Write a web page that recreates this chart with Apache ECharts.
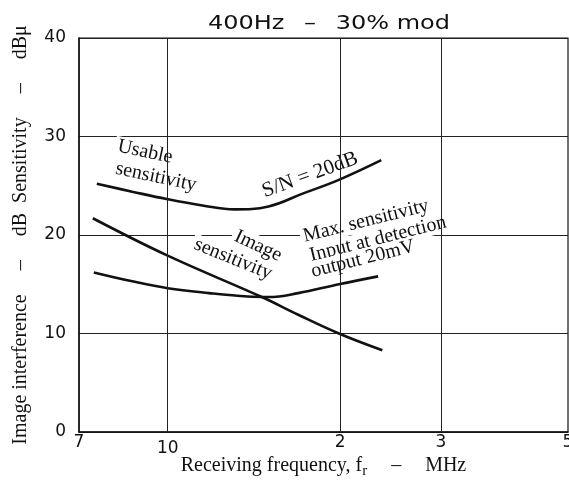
<!DOCTYPE html>
<html><head><meta charset="utf-8">
<script src="https://cdn.jsdelivr.net/npm/echarts@6/dist/echarts.min.js"></script>
<style>html,body{margin:0;padding:0;background:#fff;overflow:hidden}#c{width:569px;height:485px}</style>
</head><body><div id="c"></div>
<script>
// ---- data ----
const xTickValues = [7, 10, 20, 30, 50];
const xTickLabels = ['7', '10', '2', '3', '5'];
const gridFreqs = [10, 20, 30];

const usableFreq = [7.52, 8.67, 9.96, 11.5, 13.1, 15.0, 17.2, 19.9, 23.6];
const usableDb   = [25.2, 24.4, 23.65, 23.0, 22.6, 22.9, 24.2, 25.6, 27.6];

const imageFreq = [7.4, 10, 14.6, 16.9, 19.9, 23.7];
const imageDb   = [21.7, 17.9, 13.7, 11.9, 10.0, 8.3];

const maxFreq = [7.43, 8.67, 10, 11.8, 13.8, 15.0, 16.9, 19.9, 23.3];
const maxDb   = [16.2, 15.3, 14.6, 14.1, 13.75, 13.7, 14.1, 15.0, 15.8];

// ---- styles / layout ----
const serif = '"Liberation Serif", "Times New Roman", serif';
const sans = '"DejaVu Sans", sans-serif';
const ink = '#111';

const annotations = [
  {text: 'Usable', x: 145, y: 152, rot: -12},
  {text: 'sensitivity', x: 156, y: 177, rot: -12},
  {text: 'S/N = 20dB', x: 310, y: 175, rot: 20, size: 21},
  {text: 'Image', x: 258, y: 246, rot: -25},
  {text: 'sensitivity', x: 233, y: 259, rot: -22},
  {text: 'Max. sensitivity', x: 366, y: 221, rot: 14},
  {text: 'Input at detection', x: 378, y: 239, rot: 14},
  {text: 'output 20mV', x: 363, y: 259, rot: 14}
];

const chart = echarts.init(document.getElementById('c'), null, {renderer: 'canvas'});

function curve(name, fx, ys) {
  return {
    type: 'line', name: name, silent: true, z: 3,
    data: fx.map((f, i) => [f, ys[i]]),
    smooth: 0.4, symbol: 'none',
    lineStyle: {color: ink, width: 2.6}
  };
}

function tickLabel(v) {
  const i = xTickValues.findIndex(t => Math.abs(t - v) < 1e-6 * t);
  if (i < 0) return '';
  return i === 1 ? '{low|' + xTickLabels[i] + '}' : xTickLabels[i];
}

const option = {
  animation: false,
  backgroundColor: '#fff',
  grid: {left: 79, right: 1, top: 38, bottom: 53, outerBoundsMode: 'none', containLabel: false,
         show: true, borderColor: ink, borderWidth: 1.2, backgroundColor: 'transparent'},
  xAxis: {
    type: 'log', logBase: 10, min: 7, max: 50,
    axisLine: {show: true, lineStyle: {color: ink, width: 1.5}},
    axisTick: {show: false},
    splitLine: {show: false},
    axisLabel: {
      customValues: xTickValues,
      formatter: tickLabel,
      fontFamily: sans, fontSize: 17, color: ink, margin: 2,
      rich: {low: {fontFamily: sans, fontSize: 17, color: ink, padding: [6, 0, 0, 0]}}
    },
    name: 'Receiving frequency, f{sub|r}\u2003\u2009–\u2003\u2009MHz',
    nameLocation: 'middle', nameGap: 21, nameMoveOverlap: false,
    nameTextStyle: {
      fontFamily: serif, fontSize: 20, color: ink, lineHeight: 26,
      rich: {sub: {fontFamily: serif, fontSize: 15, color: ink, lineHeight: 12, verticalAlign: 'bottom'}}
    }
  },
  yAxis: {
    type: 'value', min: 0, max: 40, interval: 10,
    axisLine: {show: true, lineStyle: {color: ink, width: 1.5}},
    axisTick: {show: false},
    splitLine: {show: true, lineStyle: {color: '#222', width: 1}},
    axisLabel: {fontFamily: sans, fontSize: 17, color: ink, margin: 13},
    name: 'Image interference\u2003\u2009–\u2003\u2009dB\u2002Sensitivity\u2003\u2009–\u2003\u2009dBμ',
    nameLocation: 'middle', nameGap: 48, nameMoveOverlap: false,
    nameTextStyle: {fontFamily: serif, fontSize: 20, color: ink}
  },
  series: [
    {
      type: 'line', data: [], z: 0, silent: true,
      markLine: {
        silent: true, symbol: 'none', animation: false,
        label: {show: false},
        lineStyle: {color: '#222', width: 1, type: 'solid'},
        data: gridFreqs.map(f => ({xAxis: f}))
      }
    },
    curve('Usable sensitivity', usableFreq, usableDb),
    curve('Image sensitivity', imageFreq, imageDb),
    curve('Max. sensitivity', maxFreq, maxDb)
  ],
  graphic: [
    {
      type: 'text', x: 329, y: 24, scaleX: 1.2, z: 5,
      style: {text: '400Hz \u2002–\u2002 30% mod', font: '20px ' + sans, fill: ink, textAlign: 'center', textVerticalAlign: 'middle'}
    }
  ].concat(annotations.map(a => ({
    type: 'text', x: a.x, y: a.y, rotation: a.rot * Math.PI / 180, z: 1,
    style: {
      text: a.text, font: (a.size || 20) + 'px ' + serif, fill: ink,
      textAlign: 'center', textVerticalAlign: 'middle',
      backgroundColor: '#fff', padding: [0, 3]
    }
  })))
};
chart.setOption(option);
</script>
</body></html>
